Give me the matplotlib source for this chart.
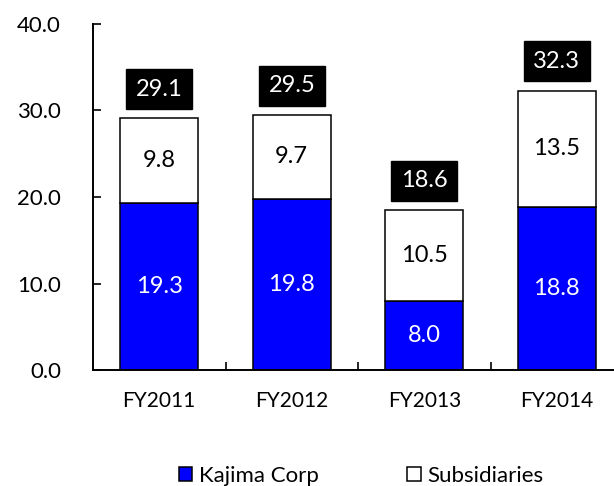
import numpy as np
import matplotlib
matplotlib.use("Agg")
import matplotlib.pyplot as plt

# ------------------------------------------------------------------------------
categories = ["FY2011", "FY2012", "FY2013", "FY2014"]
kajima = [19.3, 19.8, 8.0, 18.8]  # Kajima Corp
subsidiaries = [9.8, 9.7, 10.5, 13.5]  # Subsidiaries
totals = [29.1, 29.5, 18.6, 32.3]  # labels shown above the bars
yticks = [0, 10, 20, 30, 40]
# ------------------------------------------------------------------------------

plt.rcParams["font.family"] = ["Lato", "DejaVu Sans"]

fig = plt.figure(figsize=(6.14, 4.86), dpi=100)
ax = fig.add_axes([93 / 614, 116 / 486, 521 / 614, 346 / 486])

x = np.arange(len(categories))
width = 0.59
kaj = np.array(kajima)
sub = np.array(subsidiaries)

ax.bar(x, kaj, width, color="#0000FF", edgecolor="black", linewidth=1.1,
       label="Kajima Corp")
ax.bar(x, sub, width, bottom=kaj, color="white", edgecolor="black",
       linewidth=1.1, label="Subsidiaries")

for i in range(len(categories)):
    ax.text(x[i], kaj[i] / 2, "%.1f" % kaj[i], ha="center", va="center",
            color="white", fontsize=17)
    ax.text(x[i], kaj[i] + sub[i] / 2, "%.1f" % sub[i], ha="center",
            va="center", color="black", fontsize=17)
    ax.annotate("%.1f" % totals[i], (x[i], kaj[i] + sub[i]),
                xytext=(0, 21), textcoords="offset points",
                ha="center", va="center", color="white", fontsize=17,
                bbox=dict(boxstyle="square,pad=0.4", fc="black", ec="black"))

ax.set_ylim(0, 40)
ax.set_xlim(-0.5, -0.5 + 521 / 132.5)
ax.set_yticks(yticks)
ax.set_yticklabels(["%.1f" % v for v in yticks])
ax.set_xticks(x)
ax.set_xticklabels(categories)
ax.set_xticks(x[:-1] + 0.5, minor=True)

ax.tick_params(axis="y", direction="in", length=6, width=1.2, pad=23,
               labelsize=16)
ax.tick_params(axis="x", which="major", length=0, pad=15, labelsize=15)
ax.tick_params(axis="x", which="minor", direction="in", length=6, width=1.2)

for s in ["top", "right"]:
    ax.spines[s].set_visible(False)
for s in ["left", "bottom"]:
    ax.spines[s].set_linewidth(1.4)

fig.legend(loc="center", bbox_to_anchor=(361 / 614, 1 - 476 / 486), ncol=2,
           frameon=False, fontsize=16, handlelength=0.6, handleheight=0.6,
           handletextpad=0.3, columnspacing=4.0)

fig.savefig("out.png", dpi=100)
